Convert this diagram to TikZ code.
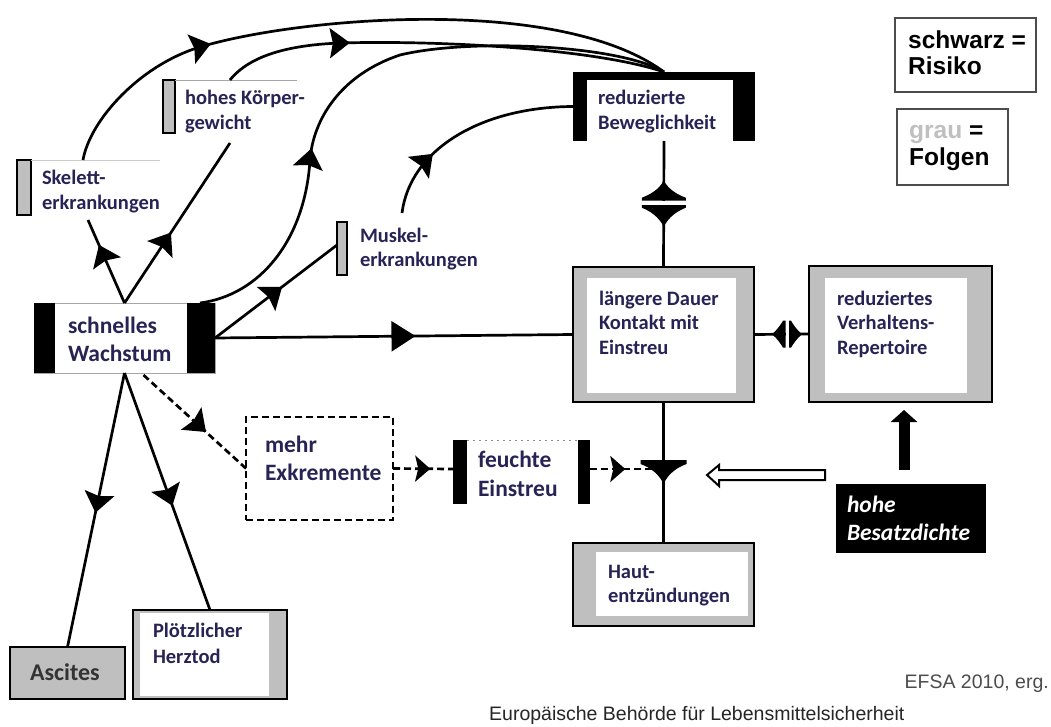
\documentclass[tikz,border=0pt]{standalone}
\usepackage{fontspec}
\setmainfont{Carlito}
\newfontfamily\arialfont{Liberation Sans}
\usetikzlibrary{arrows.meta,decorations.markings,calc}
\definecolor{txtc}{RGB}{40,35,85}
\definecolor{grf}{RGB}{191,191,191}
\begin{document}
\begin{tikzpicture}[x=1pt,y=-1pt,
  box/.style={inner sep=0pt, outer sep=0pt, anchor=north west},
  conn/.style={line width=2.7pt, black},
  dconn/.style={conn, dash pattern=on 7pt off 4pt},
  ts/.style={inner sep=0pt, outer sep=0pt, anchor=north west, align=left, text=txtc, font=\fontsize{20.5}{24.5}\selectfont\bfseries},
  tl/.style={ts, font=\fontsize{23.5}{28}\selectfont\bfseries},
  marr/.style={postaction={decorate}, decoration={markings, mark=at position #1 with {\arrow{Stealth[length=20pt,width=30pt,inset=3pt]}}}},
  sarr/.style={postaction={decorate}, decoration={markings, mark=at position #1 with {\arrow{Stealth[length=15pt,width=26pt,inset=3pt]}}}},
  tarr/.style={postaction={decorate}, decoration={markings, mark=at position #1 with {\arrow{Triangle[length=24pt,width=30pt]}}}},
  grayframe/.style={box, draw=black, line width=2pt, fill=grf},
  legendbox/.style={box, draw=black!70, line width=1.3pt},
  grbar/.style={fill=grf, draw=black, line width=1.4pt}
]
\useasboundingbox (0,0) rectangle (1051,727);
\fill[white] (0,0) rectangle (1051,727);

% ---------- boxes ----------
\node[box, minimum width=181pt, minimum height=70pt] (sw) at (34,303) {};
\draw[black!35, line width=0.8pt] (sw.north west) rectangle (sw.south east);
\fill (sw.north west) rectangle ($(sw.south west)+(21,0)$);
\fill ($(sw.north east)+(-28,0)$) rectangle (sw.south east);

\node[box, minimum width=142pt, minimum height=60pt] (sk) at (17,160) {};
\draw[grbar] (17,160) rectangle (31,215);
\draw[black!20, line width=0.6pt] (31,160) -- (160,160);

\node[box, minimum width=134pt, minimum height=63pt] (hk) at (163,80) {};
\draw[grbar] (163,80) rectangle (175,133);
\draw[black!35, line width=0.8pt] (175,80) -- (297,80);

\node[box, minimum width=130pt, minimum height=64pt] (mk) at (337,213) {};
\draw[grbar] (337,222) rectangle (347,275);

\node[box, minimum width=182pt, minimum height=69pt] (rb) at (573,72) {};
\fill (573,72) rectangle (755,80);
\fill (573,72) rectangle (587,141);
\fill (733,72) rectangle (755,141);

\node[grayframe, minimum width=181pt, minimum height=135pt] (ld) at (573,267) {};
\fill[white] (587,278) rectangle (736,393);
\node[grayframe, minimum width=183pt, minimum height=136pt] (rv) at (809,266) {};
\fill[white] (825,278) rectangle (967,393);
\node[grayframe, minimum width=181pt, minimum height=83pt] (he) at (573,543) {};
\fill[white] (596,552) rectangle (748,616);

\node[box, draw=black, line width=2.5pt, dash pattern=on 7pt off 4pt, minimum width=147pt, minimum height=103pt] (me) at (246,417) {};

\node[box, minimum width=137pt, minimum height=64pt] (fe) at (453,437) {};
\fill (453,440) rectangle (467,504);
\fill (578,440) rectangle (590,504);
\draw[black!45, line width=1pt, dash pattern=on 2pt off 4pt] (467,440) -- (578,440);

\node[grayframe, minimum width=115pt, minimum height=52pt] (as) at (10,647) {};
\node[grayframe, minimum width=154pt, minimum height=89pt] (ph) at (133,610) {};
\fill[white] (140,613) rectangle (269,696);

\node[box, fill=black, minimum width=150pt, minimum height=69pt] (hb) at (836,484) {};
\node[legendbox, minimum width=141pt, minimum height=74pt] (lg1) at (895,18) {};
\node[legendbox, minimum width=111pt, minimum height=76pt] (lg2) at (897,109) {};

% ---------- texts ----------
\node[tl] (t-sw) at (68,313.4) {\strut schnelles\\Wachstum};
\node[ts] (t-hk) at (185,87.85) {\strut hohes Körper-\\gewicht};
\node[ts] (t-sk) at (42,167.85) {\strut Skelett-\\erkrankungen};
\node[ts] (t-mk) at (360,224.85) {\strut Muskel-\\erkrankungen};
\node[ts] (t-rb) at (598,87.85) {\strut reduzierte\\Beweglichkeit};
\node[ts] (t-ld) at (599,287.85) {\strut längere Dauer\\Kontakt mit\\Einstreu};
\node[ts] (t-rv) at (837,287.85) {\strut reduziertes\\Verhaltens-\\Repertoire};
\node[ts] (t-he) at (608,560.85) {\strut Haut-\\entzündungen};
\node[ts, font=\fontsize{20.5}{26}\selectfont\bfseries] (t-ph) at (153,618.8) {\strut Plötzlicher\\Herztod};
\node[tl] (t-me) at (265,432.4) {\strut mehr\\Exkremente};
\node[tl, font=\fontsize{23.5}{29.5}\selectfont\bfseries] (t-fe) at (478,446.35) {\strut feuchte\\Einstreu};
\node[tl, text=white, font=\fontsize{23.5}{28}\selectfont\bfseries\itshape] (t-hb) at (847,492.4) {\strut hohe\\Besatzdichte};
\node[ts, text=black!80, font=\fontsize{24}{28}\selectfont\bfseries] (t-as) at (30,660.4) {\strut Ascites};

\node[inner sep=0pt, anchor=north west, align=left, font=\arialfont\bfseries\fontsize{24.5}{23.3}\selectfont] (t-lg1) at (908,30.4) {\strut schwarz =\\Risiko};
\node[inner sep=0pt, anchor=north west, align=left, font=\arialfont\bfseries\fontsize{24.5}{27}\selectfont] (t-lg2) at (909,119.1) {\strut\textcolor{black!25}{grau} =\\Folgen};

\node[anchor=base east, inner sep=0pt, font=\arialfont\fontsize{19.5}{23}\selectfont, text=black!70] (efsa) at (1049,688) {EFSA 2010, erg.};
\node[anchor=base west, inner sep=0pt, font=\arialfont\fontsize{19.5}{23}\selectfont, text=black!85] (eu) at (489,720) {Europäische Behörde für Lebensmittelsicherheit};

% ---------- connectors ----------
\draw[conn, tarr=0.56] (sw.east) -- (ld.west);
\draw[conn, marr=0.70] (sw.north) -- (sk.south);
\draw[conn, marr=0.44] (sw.north) -- (hk.south);
\draw[conn, marr=0.55] (sw.east) -- (mk.west);
\draw[conn, marr=0.34] ($(sw.north east)+(-15,0)$) .. controls (260,295) and (305,240) .. (310,160) .. controls (313,120) and (340,75) .. (400,55) .. controls (470,38) and (620,45) .. (rb.north);
\draw[conn, marr=0.28] ($(sk.north)+(-5,0)$) .. controls (90,120) and (140,65) .. (200,47) .. controls (300,17) and (560,-5) .. (rb.north);
\draw[conn, marr=0.29] (hk.north) .. controls (250,55) and (290,45) .. (340,43) .. controls (450,40) and (600,50) .. (rb.north);
\draw[conn, marr=0.31] (mk.north) .. controls (410,150) and (480,107) .. (rb.west);

\draw[conn] (rb.south) -- coordinate[pos=0.49] (dv) (ld.north);
\draw[conn] (ld.east) -- coordinate[pos=0.6] (dh) (rv.west);
\coordinate (jn) at (fe.east -| ld.south);
\draw[conn] (ld.south) -- (he.north);
\draw[dconn, marr=0.61] ($(sw.south)+(19,2)$) -- (me.west);
\draw[dconn, sarr=0.62] (me.east) -- (fe.west);
\draw[dconn, sarr=0.48] (fe.east) -- (jn);
\draw[conn, marr=0.51] (sw.south) -- (as.north);
\draw[conn, marr=0.56] (sw.south) -- (ph.north);

% split diamond (vertical)
\begin{scope}[shift={(dv)}]
 \fill (0,-22) .. controls (5,-13) and (14,-8) .. (22,-5) -- (22,-2) -- (-22,-2) -- (-22,-5) .. controls (-14,-8) and (-5,-13) .. (0,-22) -- cycle;
 \fill (0,24) .. controls (5,14) and (14,8) .. (22,5) -- (22,2) -- (-22,2) -- (-22,5) .. controls (-14,8) and (-5,14) .. (0,24) -- cycle;
 \fill[white] (-24,-2) rectangle (24,2);
\end{scope}
% split diamond (horizontal)
\begin{scope}[shift={(dh)}]
 \fill (-15,0) .. controls (-10,-4) and (-6,-10) .. (-4,-13.5) -- (-1.5,-13.5) -- (-1.5,13.5) -- (-4,13.5) .. controls (-6,10) and (-10,4) .. (-15,0) -- cycle;
 \fill (15,0) .. controls (10,-4) and (6,-10) .. (4,-13.5) -- (1.5,-13.5) -- (1.5,13.5) -- (4,13.5) .. controls (6,10) and (10,4) .. (15,0) -- cycle;
 \fill[white] (-1.5,-15) rectangle (1.5,15);
\end{scope}
% funnel junction
\begin{scope}[shift={(jn)}]
 \fill (-23,-9) -- (23,-9) -- (23,-5) .. controls (12,-1) and (4,6) .. (0,15) .. controls (-4,6) and (-12,-1) .. (-23,-5) -- cycle;
\end{scope}

% hollow arrow
\draw[line width=2pt, fill=white, line join=miter] (707,475) -- (719,465) -- (719,470) -- (825,470) -- (825,480) -- (719,480) -- (719,486) -- cycle;
% thick arrow
\coordinate (hbt) at ($(hb.north)+(-7,-14)$);
\draw[line width=11pt, -{Triangle[length=12pt,width=26pt]}, shorten >=8pt] (hbt) -- (hbt |- rv.south);
\end{tikzpicture}
\end{document}
